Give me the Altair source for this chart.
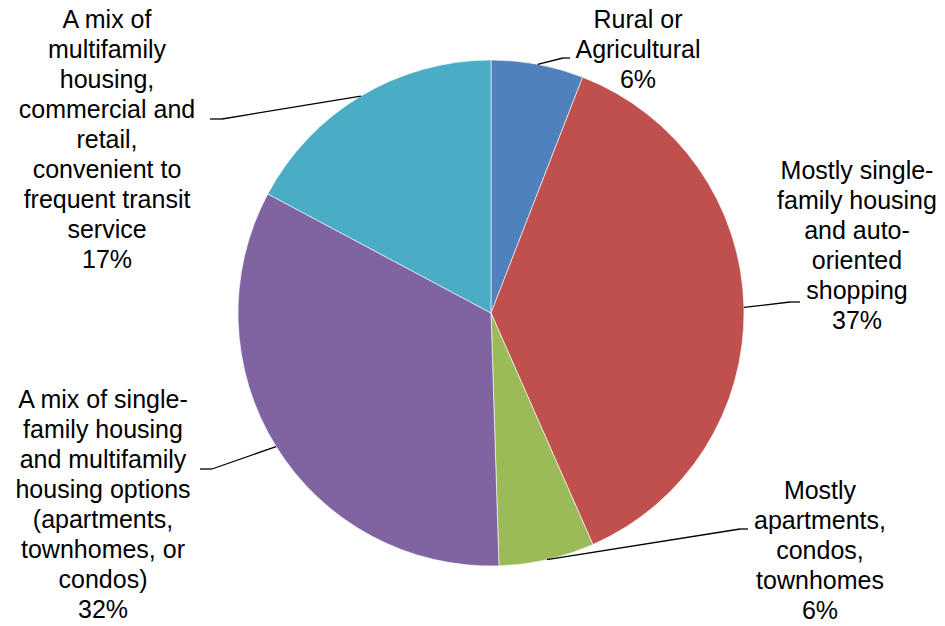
import altair as alt
import pandas as pd

# ---------------- data ----------------
categories = [
    "Rural or Agricultural",
    "Mostly single-family housing and auto-oriented shopping",
    "Mostly apartments, condos, townhomes",
    "A mix of single-family housing and multifamily housing options (apartments, townhomes, or condos)",
    "A mix of multifamily housing, commercial and retail, convenient to frequent transit service",
]
# slice shares
share = [5.9, 37.5, 6.1, 33.3, 17.2]
# percentages printed in the labels
percent_labels = ["6%", "37%", "6%", "32%", "17%"]
label_lines = [
    ["Rural or", "Agricultural"],
    ["Mostly single-", "family housing", "and auto-", "oriented", "shopping"],
    ["Mostly", "apartments,", "condos,", "townhomes"],
    ["A mix of single-", "family housing", "and multifamily", "housing options",
     "(apartments,", "townhomes, or", "condos)"],
    ["A mix of", "multifamily", "housing,", "commercial and", "retail,",
     "convenient to", "frequent transit", "service"],
]
colors = ["#4F81BD", "#C0504D", "#9BBB59", "#8064A2", "#4BACC6"]

# ---------------- layout (pixels) ----------------
W, H = 945, 626
CX, CY, R = 491, 313, 253
label_x = [638, 857, 820, 103, 107]
label_y = [28, 179, 499, 408, 28]      # first-line baseline
elbow_x = [563, 790, 740, 212, 222]
elbow_y = [58, 302, 529, 469, 119]
end_x = [570, 800, 748, 200, 210]

df = pd.DataFrame({
    "order": list(range(len(categories))),
    "category": categories,
    "value": share,
    "label": ["\n".join(l + [p]) for l, p in zip(label_lines, percent_labels)],
    "lx": label_x,
    "ly": label_y,
    "bx": elbow_x,
    "by": elbow_y,
    "tx": end_x,
})

xs = alt.Scale(domain=[0, W], range=[0, W], nice=False, zero=False)
ys = alt.Scale(domain=[0, H], range=[0, H], nice=False, zero=False)

base = alt.Chart(df)

pie = base.mark_arc(outerRadius=R, stroke="white", strokeWidth=0.6).encode(
    theta=alt.Theta("value:Q", stack=True),
    order=alt.Order("order:Q"),
    color=alt.Color("category:N", scale=alt.Scale(domain=categories, range=colors), legend=None),
    x=alt.value(CX),
    y=alt.value(CY),
)

geo = base.transform_joinaggregate(
    total="sum(value)"
).transform_window(
    cum="sum(value)", sort=[alt.SortField("order")], frame=[None, 0]
).transform_calculate(
    mid="2*PI*(datum.cum - datum.value/2)/datum.total",
).transform_calculate(
    ex=f"{CX} + {R}*sin(datum.mid)",
    ey=f"{CY} - {R}*cos(datum.mid)",
)

leader1 = geo.mark_rule(color="black", strokeWidth=1.3).encode(
    x=alt.X("ex:Q", scale=xs, axis=None),
    y=alt.Y("ey:Q", scale=ys, axis=None),
    x2="bx:Q",
    y2="by:Q",
)
leader2 = geo.mark_rule(color="black", strokeWidth=1.3).encode(
    x=alt.X("bx:Q", scale=xs, axis=None),
    y=alt.Y("by:Q", scale=ys, axis=None),
    x2="tx:Q",
    y2="by:Q",
)

labels = base.mark_text(
    font="Liberation Sans", fontSize=25, lineHeight=30, lineBreak="\n",
    align="center", baseline="alphabetic", color="black",
).encode(
    x=alt.X("lx:Q", scale=xs, axis=None),
    y=alt.Y("ly:Q", scale=ys, axis=None),
    text="label:N",
)

chart = alt.layer(pie, leader1, leader2, labels).properties(
    width=W, height=H, padding=0, background="white"
).configure_view(stroke=None)

chart.save("out.html", embed_options={"renderer": "svg", "actions": False})
